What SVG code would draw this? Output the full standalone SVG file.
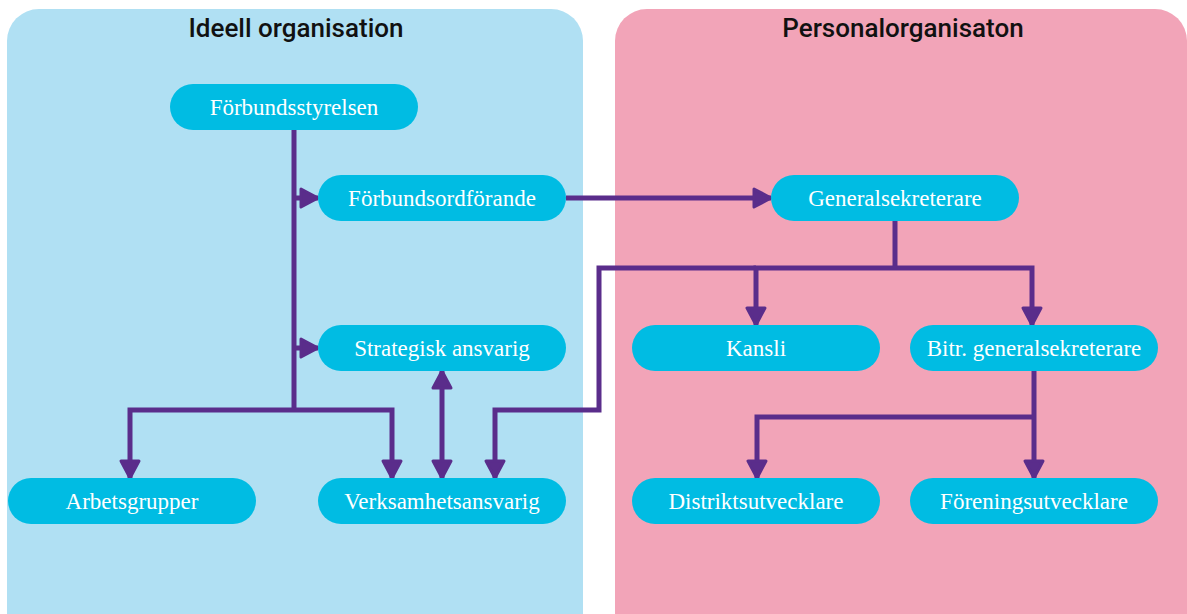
<svg xmlns="http://www.w3.org/2000/svg" width="1187" height="614" viewBox="0 0 1187 614">
<defs>
<style>
.panel-l{fill:#B0E0F3;}
.panel-r{fill:#F2A4B8;}
.title{font-family:Roboto,"Liberation Sans",sans-serif;font-weight:500;font-size:26px;fill:#111;text-anchor:middle;}
.node rect{fill:#00BCE3;}
.node text{font-family:"Liberation Serif",serif;font-size:23px;fill:#fff;text-anchor:middle;}
.conn{fill:none;stroke:#5A2D8B;stroke-width:5;stroke-linejoin:miter;}
</style>
<marker id="ah" viewBox="0 0 24 24" refX="20" refY="12" markerWidth="24" markerHeight="24" markerUnits="userSpaceOnUse" orient="auto-start-reverse">
<path d="M3,3 L20,12 L3,21 Z" fill="#5A2D8B" stroke="#5A2D8B" stroke-width="3" stroke-linejoin="round"/>
</marker>
</defs>
<rect width="1187" height="614" fill="#ffffff"/>
<g id="panel-ideell">
<rect class="panel-l" x="7" y="9" width="576" height="640" rx="32"/>
<text class="title" x="296" y="37">Ideell organisation</text>
</g>
<g id="panel-personal">
<rect class="panel-r" x="615" y="9" width="572" height="640" rx="32"/>
<text class="title" x="903" y="37">Personalorganisaton</text>
</g>
<g id="connectors">
<path class="conn" d="M294,130 V410"/>
<path class="conn" d="M294,198 H318" marker-end="url(#ah)"/>
<path class="conn" d="M294,348 H318" marker-end="url(#ah)"/>
<path class="conn" d="M294,410 H130 V478" marker-end="url(#ah)"/>
<path class="conn" d="M294,410 H392 V478" marker-end="url(#ah)"/>
<path class="conn" d="M442,371 V478" marker-start="url(#ah)" marker-end="url(#ah)"/>
<path class="conn" d="M566,198 H771" marker-end="url(#ah)"/>
<path class="conn" d="M895,221 V268"/>
<path class="conn" d="M895,268 H756 V325" marker-end="url(#ah)"/>
<path class="conn" d="M895,268 H1032 V325" marker-end="url(#ah)"/>
<path class="conn" d="M756,268 H599 V410 H495 V478" marker-end="url(#ah)"/>
<path class="conn" d="M1034,371 V478" marker-end="url(#ah)"/>
<path class="conn" d="M1034,417 H757 V478" marker-end="url(#ah)"/>
</g>
<g id="n-forbundsstyrelsen" class="node"><rect x="170" y="84" width="248" height="46" rx="23"/><text x="294" y="115">Förbundsstyrelsen</text></g>
<g id="n-forbundsordforande" class="node"><rect x="318" y="175" width="248" height="46" rx="23"/><text x="442" y="206">Förbundsordförande</text></g>
<g id="n-strategisk" class="node"><rect x="318" y="325" width="248" height="46" rx="23"/><text x="442" y="356">Strategisk ansvarig</text></g>
<g id="n-arbetsgrupper" class="node"><rect x="8" y="478" width="248" height="46" rx="23"/><text x="132" y="509">Arbetsgrupper</text></g>
<g id="n-verksamhet" class="node"><rect x="318" y="478" width="248" height="46" rx="23"/><text x="442" y="509">Verksamhetsansvarig</text></g>
<g id="n-generalsekreterare" class="node"><rect x="771" y="175" width="248" height="46" rx="23"/><text x="895" y="206">Generalsekreterare</text></g>
<g id="n-kansli" class="node"><rect x="632" y="325" width="248" height="46" rx="23"/><text x="756" y="356">Kansli</text></g>
<g id="n-bitr" class="node"><rect x="910" y="325" width="248" height="46" rx="23"/><text x="1034" y="356">Bitr. generalsekreterare</text></g>
<g id="n-distrikt" class="node"><rect x="632" y="478" width="248" height="46" rx="23"/><text x="756" y="509">Distriktsutvecklare</text></g>
<g id="n-forening" class="node"><rect x="910" y="478" width="248" height="46" rx="23"/><text x="1034" y="509">Föreningsutvecklare</text></g>
</svg>
